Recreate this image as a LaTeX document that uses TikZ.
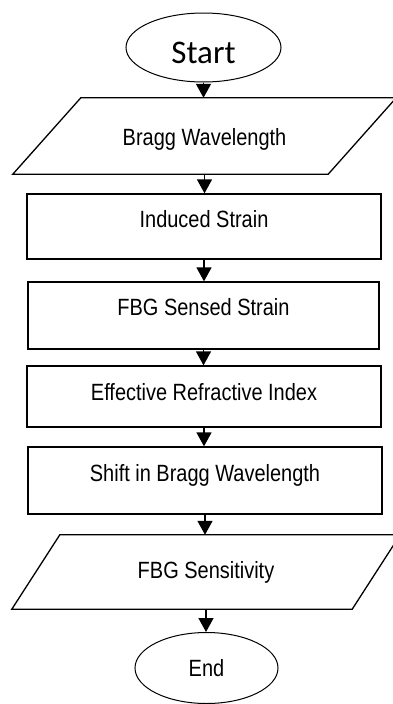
\documentclass[tikz,border=0pt]{standalone}
\usepackage{fontspec}
\setmainfont{Liberation Sans}[FakeStretch=0.85]
\newfontfamily\startfont{Carlito}
\usetikzlibrary{arrows.meta,shapes.geometric}
\begin{document}
\begin{tikzpicture}[x=1pt,y=-1pt,
  every node/.style={font=\fontsize{23.5}{28}\selectfont, inner sep=0pt},
  terminal/.style={ellipse, draw, line width=1pt},
  stepbox/.style={rectangle, draw, line width=1.3pt},
  iobox/.style={rectangle},
  iopath/.style={line width=1.3pt, line join=miter},
  basel/.style={text height=#1, text depth=0pt},
  arr/.style={-{Triangle[length=14pt,width=15pt]}, line width=1.4pt}]
\useasboundingbox (0,0) rectangle (392,704);

% start / end terminals
\node[terminal, minimum width=155pt, minimum height=69pt, basel=31pt,
      font=\startfont\fontsize{33}{36}\selectfont] (start) at (203.5,47.5) {Start};

% input: Bragg wavelength
\node[iobox, minimum width=315pt, minimum height=76pt, basel=18pt] (bragg) at (204.5,136) {Bragg Wavelength};
\draw[iopath] ([xshift=-34pt]bragg.south west) -- ([xshift=34pt]bragg.north west)
  -- ([xshift=34pt]bragg.north east) -- ([xshift=-34pt]bragg.south east) -- cycle;

% processing steps
\node[stepbox, minimum width=354pt, minimum height=65pt, basel=1pt] (induced) at (204,226.5) {Induced Strain};
\node[stepbox, minimum width=351pt, minimum height=67pt, basel=0pt] (sensed) at (203.5,315.5) {FBG Sensed Strain};
\node[stepbox, minimum width=354pt, minimum height=61pt, basel=7pt] (neff) at (204,396.5) {Effective Refractive Index};
\node[stepbox, minimum width=354pt, minimum height=67pt, basel=1pt] (shift) at (205,480.5) {Shift in Bragg Wavelength};

% output: sensitivity
\node[iobox, minimum width=340pt, minimum height=74pt, basel=12pt] (sens) at (206,572) {FBG Sensitivity};
\draw[iopath] ([xshift=-24pt]sens.south west) -- ([xshift=24pt]sens.north west)
  -- ([xshift=24pt]sens.north east) -- ([xshift=-24pt]sens.south east) -- cycle;

\node[terminal, minimum width=143pt, minimum height=71pt, basel=16pt] (end) at (206.5,668) {End};

% flow connectors
\draw[arr] (start.south) -- (start.south |- bragg.north);
\draw[arr] (bragg.south) -- (bragg.south |- induced.north);
\draw[arr] (induced.south) -- (induced.south |- sensed.north);
\draw[arr] (sensed.south) -- (sensed.south |- neff.north);
\draw[arr] (neff.south) -- (neff.south |- shift.north);
\draw[arr] (shift.south) -- (shift.south |- sens.north);
\draw[arr] (sens.south) -- (sens.south |- end.north);
\end{tikzpicture}
\end{document}
